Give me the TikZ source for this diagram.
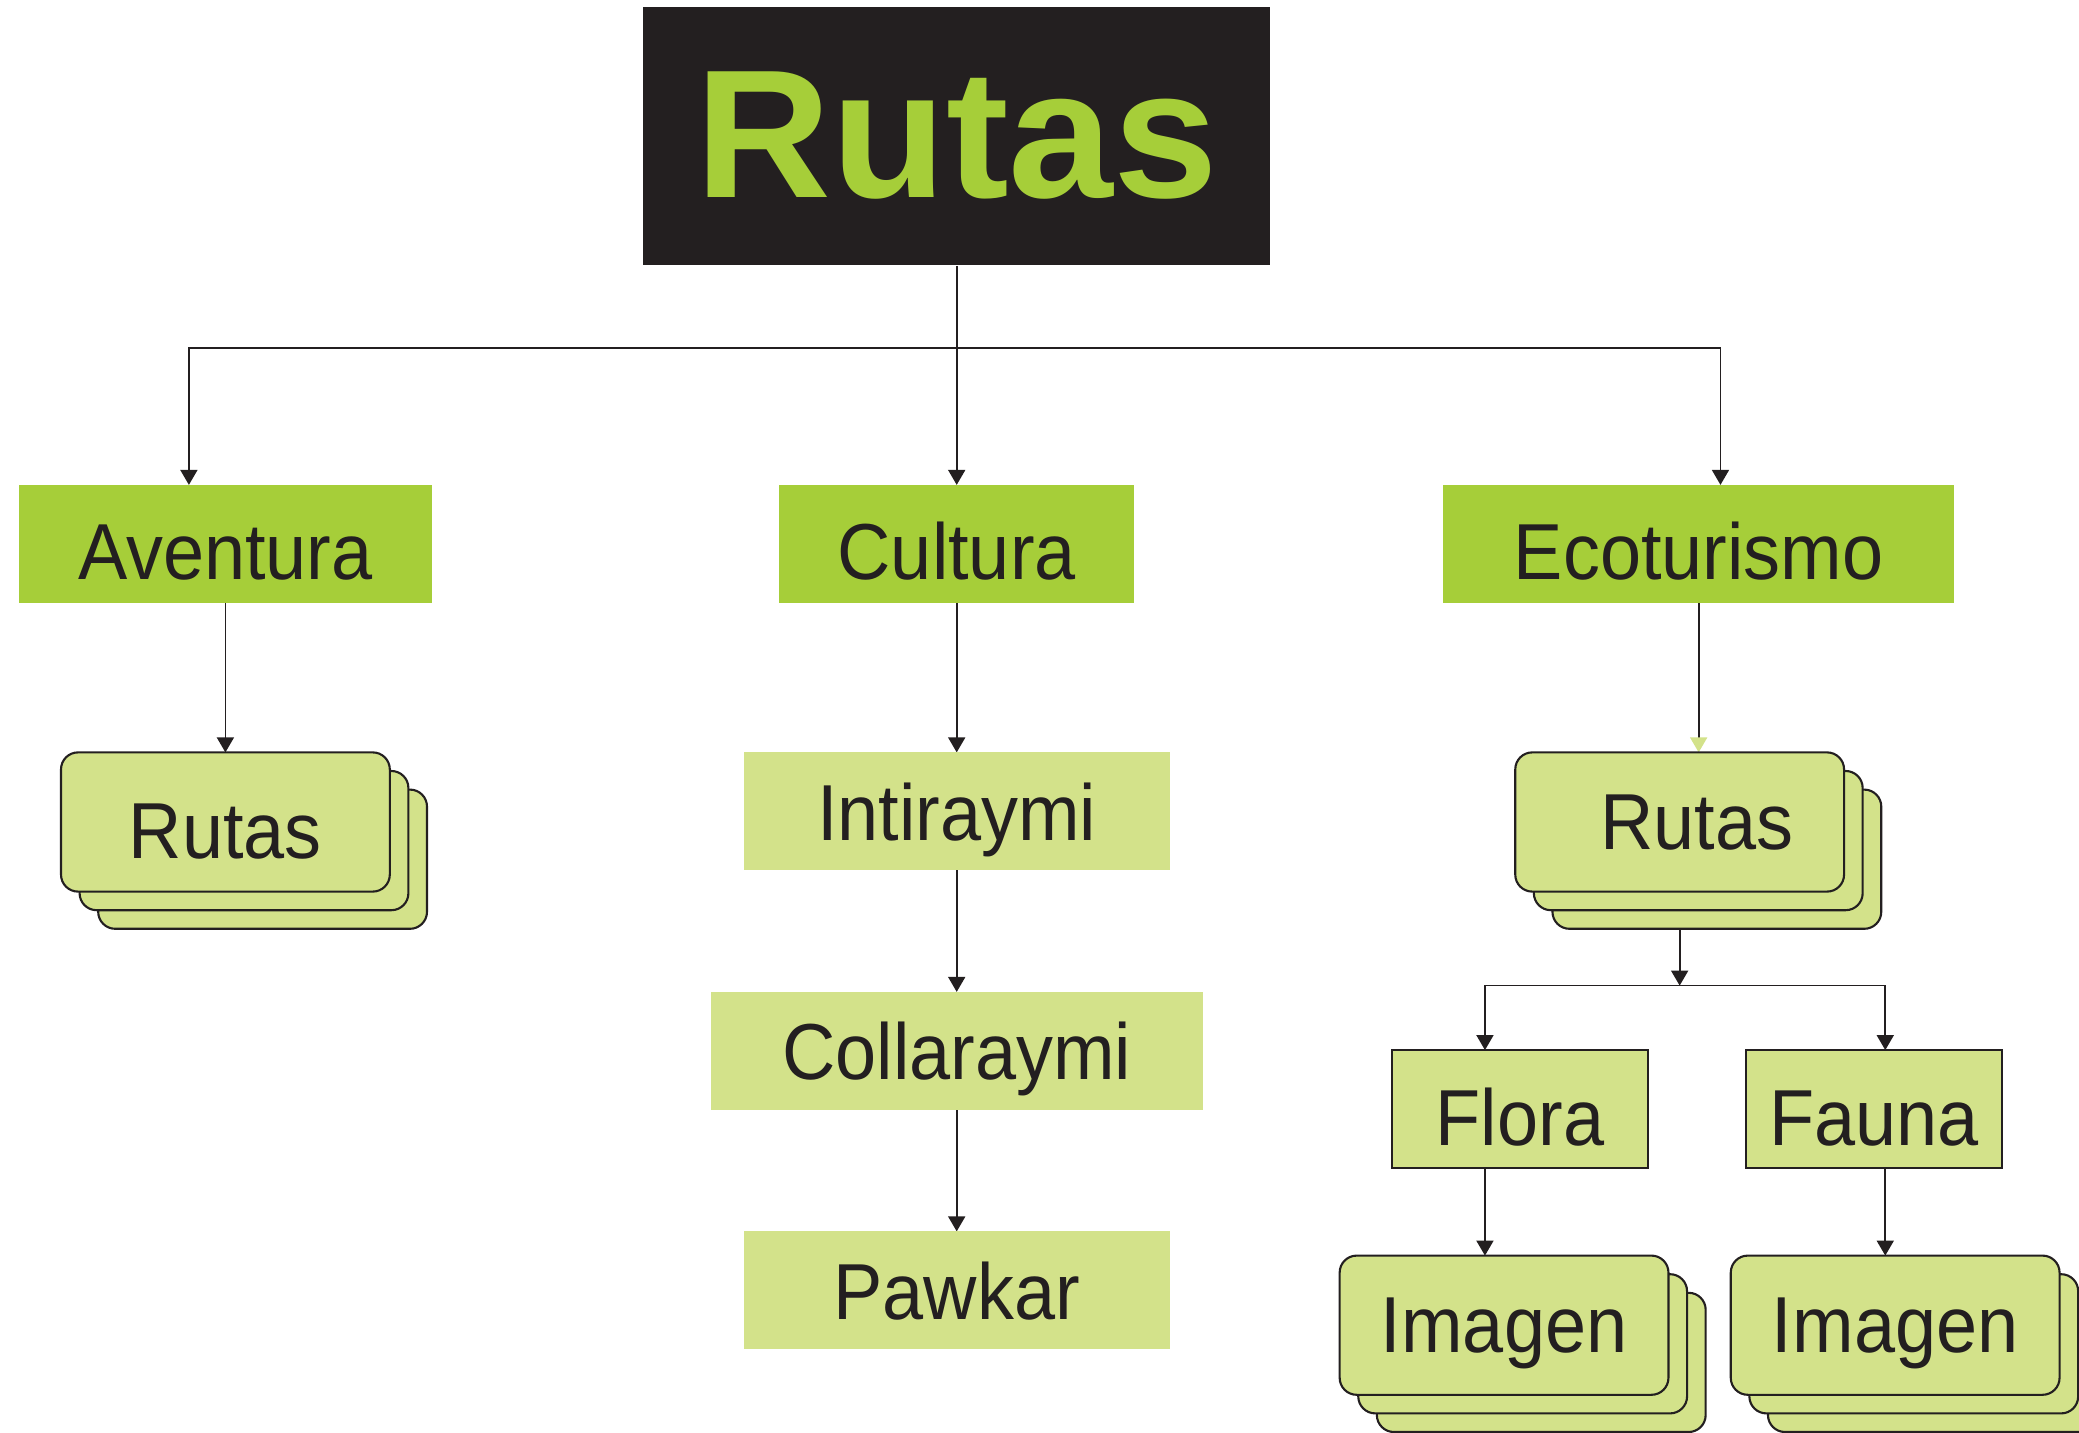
\documentclass[tikz,border=0pt]{standalone}
\usepackage{fontspec}
\setmainfont{Liberation Sans}[FakeStretch=0.93]
\newfontfamily\titlefont{Liberation Sans}[FakeStretch=1.03]
\usetikzlibrary{arrows.meta, positioning, shadows, backgrounds}
\definecolor{rdark}{HTML}{231F20}
\definecolor{rgreen}{HTML}{A6CE39}
\definecolor{rpale}{HTML}{D3E28A}
\tikzset{
  head/.style={rectangle, fill=rdark, text=rgreen, inner sep=0pt,
               minimum width=6.27cm, minimum height=2.586cm,
               font=\titlefont\bfseries\fontsize{52}{60}\selectfont},
  cat/.style={rectangle, fill=rgreen, text=rdark, inner sep=0pt, outer sep=0pt,
              minimum height=1.18cm, text depth=0pt, font=\fontsize{22.6}{26}\selectfont},
  low/.style={text height=20.5pt},
  item/.style={cat, fill=rpale},
  leaf/.style={item, low, draw=rdark, line width=0.5pt, minimum width=2.559cm},
  stack/.style={rectangle, rounded corners=0.17cm, draw=rdark, fill=rpale, text=rdark,
                line width=0.6pt, inner sep=0pt, outer sep=0pt,
                minimum width=3.288cm, minimum height=1.392cm,
                text depth=0pt, font=\fontsize{22.6}{26}\selectfont,
                copy shadow={shadow xshift=0.372cm, shadow yshift=-0.372cm, fill=rpale, draw=rdark},
                copy shadow={shadow xshift=0.186cm, shadow yshift=-0.186cm, fill=rpale, draw=rdark}},
  flow/.style={-{Triangle[length=1.5mm, width=1.7mm]}, draw=rdark, line width=0.5pt},
  paleflow/.style={-{Triangle[length=1.5mm, width=1.7mm, color=rpale]}, draw=rdark, line width=0.5pt},
  line/.style={draw=rdark, line width=0.5pt}
}

\begin{document}
\begin{tikzpicture}
  \useasboundingbox (0,0) rectangle (20.79,-14.33);
  \node[head] (title) at (9.567,-1.359) {Rutas};
  \node[cat, low, minimum width=3.554cm, below=2.19cm of title] (cult) {Cultura};
  \node[cat, low, minimum width=4.124cm, left=3.474cm of cult] (aven) {Aventura};
  \node[cat, low, minimum width=5.105cm, right=3.09cm of cult] (eco) {Ecoturismo};

  \node[stack, low, below=1.495cm of aven] (rutasL) {Rutas};

  \node[item, minimum width=4.256cm, below=1.495cm of cult] (inti) {Intiraymi};
  \node[item, minimum width=4.92cm, below=1.215cm of inti] (colla) {Collaraymi};
  \node[item, minimum width=4.256cm, below=1.215cm of colla] (pawkar) {Pawkar};

  \node[stack, below=1.495cm of eco, xshift=-0.19cm] (rutasR) {\hspace*{0.34cm}Rutas};
  \node[leaf, below=1.585cm of rutasR, xshift=-1.597cm] (flora) {Flora};
  \node[leaf, below=1.585cm of rutasR, xshift=1.943cm] (fauna) {Fauna};
  \node[stack, below=0.875cm of flora, xshift=-0.159cm] (imgA) {Imagen};
  \node[stack, below=0.875cm of fauna, xshift=0.212cm] (imgB) {Imagen};

  \coordinate[below=0.822cm of title] (hub);
  \coordinate[below=0.94cm of rutasR] (split);

  \begin{scope}[on background layer]
    \draw[line] (title) -- (hub);
    \draw[flow] (hub) -| ([xshift=-0.365cm]aven.north);
    \draw[flow] (hub) -- (cult);
    \draw[flow] (hub) -| ([xshift=0.218cm]eco.north);
    \draw[flow] (aven) -- (rutasL);
    \draw[flow] (cult) -- (inti);
    \draw[flow] (inti) -- (colla);
    \draw[flow] (colla) -- (pawkar);
    \draw[paleflow] (eco.south) -- (eco.south |- rutasR.north);
    \draw[flow] (rutasR.south) -- (split);
    \draw[flow] (split) -| ([xshift=-0.35cm]flora.north);
    \draw[flow] (split) -| ([xshift=0.113cm]fauna.north);
    \draw[flow] ([xshift=-0.35cm]flora.south) -- ([xshift=-0.35cm]flora.south |- imgA.north);
    \draw[flow] ([xshift=0.113cm]fauna.south) -- ([xshift=0.113cm]fauna.south |- imgB.north);
  \end{scope}
\end{tikzpicture}
\end{document}
